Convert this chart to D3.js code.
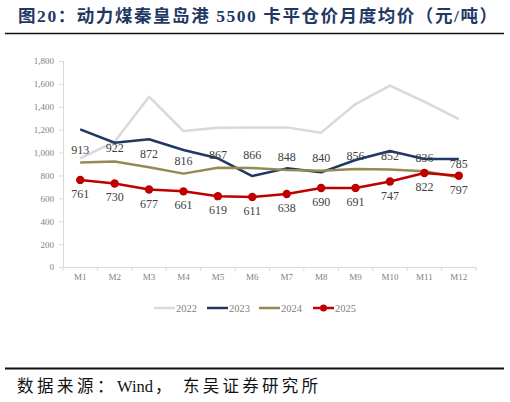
<!DOCTYPE html>
<html><head><meta charset="utf-8">
<script src="https://cdn.jsdelivr.net/npm/d3@7/dist/d3.min.js"></script>
<style>body{margin:0;background:#fff}svg{display:block}</style>
</head><body>
<svg id="c" width="510" height="402"></svg>
<script>
const months = ["M1","M2","M3","M4","M5","M6","M7","M8","M9","M10","M11","M12"];
const s2022 = [950,1095,1488,1188,1217,1220,1220,1174,1424,1584,1444,1293];
const s2023 = [1203,1086,1116,1022,950,795,862,827,935,1013,944,944];
const s2024 = [913,922,872,816,867,866,848,840,856,852,836,785];
const s2025 = [761,730,677,661,619,611,638,690,691,747,822,797];
const yTicks = [0,200,400,600,800,1000,1200,1400,1600,1800];
const seriesNames = ["2022","2023","2024","2025"];
const colors = ["#d9d9d9","#1f3864","#948a54","#c00000"];

const svg = d3.select("#c");
const serif = "'Liberation Serif','Times New Roman',serif";
const cjk = "'Liberation Serif','Noto Sans CJK SC',serif";

// title
svg.append("text").attr("x",18).attr("y",22).attr("font-family",cjk).attr("font-weight","bold")
  .attr("font-size",17.5).attr("fill","#1f3864")
  .attr("textLength",479).attr("lengthAdjust","spacing")
  .text("图20：动力煤秦皇岛港 5500 卡平仓价月度均价（元/吨）");
svg.append("line").attr("x1",5).attr("x2",504).attr("y1",33.5).attr("y2",33.5).attr("stroke","#111").attr("stroke-width",1.5);

const x = d3.scaleBand().domain(months).range([63,476]);
const y = d3.scaleLinear().domain([0,1800]).range([267,61]);

// y axis
const ya = svg.append("g").attr("transform","translate(63,0)")
  .call(d3.axisLeft(y).tickValues(yTicks).tickSize(4).tickPadding(5).tickFormat(d3.format(",")));
ya.select(".domain").attr("stroke","#d9d9d9");
ya.selectAll(".tick line").attr("stroke","#d9d9d9");
ya.selectAll("text").attr("font-family",serif).attr("font-size",9).attr("fill","#7f7f7f");

// x axis
const xa = svg.append("g").attr("transform","translate(0,267)")
  .call(d3.axisBottom(x).tickSize(0).tickPadding(7));
xa.select(".domain").attr("stroke","#d9d9d9");
xa.selectAll("text").attr("font-family",serif).attr("font-size",9).attr("fill","#7f7f7f");
const bounds = months.map(m=>x(m)).concat([x.range()[1]]);
xa.selectAll(".bt").data(bounds).enter().append("line")
  .attr("x1",d=>d).attr("x2",d=>d).attr("y1",0).attr("y2",4).attr("stroke","#d9d9d9");

const cx = m => x(m)+x.bandwidth()/2;
const line = d3.line().x((d,i)=>cx(months[i])).y(d=>y(d));
const all = [s2022,s2023,s2024,s2025];
all.forEach((s,k)=>{
  svg.append("path").datum(s).attr("d",line).attr("fill","none")
    .attr("stroke",colors[k]).attr("stroke-width",2.5).attr("stroke-linejoin","round");
});
svg.selectAll(".dot").data(s2025).enter().append("circle")
  .attr("cx",(d,i)=>cx(months[i])).attr("cy",d=>y(d)).attr("r",4.2).attr("fill",colors[3]);

// labels
svg.selectAll(".l24").data(s2024).enter().append("text")
  .attr("x",(d,i)=>cx(months[i])).attr("y",d=>y(d)-9).attr("text-anchor","middle")
  .attr("font-family",serif).attr("font-size",12).attr("fill","#404040").text(d=>d);
svg.selectAll(".l25").data(s2025).enter().append("text")
  .attr("x",(d,i)=>cx(months[i])).attr("y",d=>y(d)+18).attr("text-anchor","middle")
  .attr("font-family",serif).attr("font-size",12).attr("fill","#404040").text(d=>d);

// legend
const legX = [154,207,259,313];
seriesNames.forEach((n,k)=>{
  const g = svg.append("g").attr("transform",`translate(${legX[k]},308)`);
  g.append("line").attr("x1",0).attr("x2",21).attr("stroke",colors[k]).attr("stroke-width",2.5);
  if(k===3) g.append("circle").attr("cx",10.5).attr("cy",0).attr("r",3.5).attr("fill",colors[k]);
  g.append("text").attr("x",22).attr("y",4).attr("font-family",serif).attr("font-size",10.5)
    .attr("fill","#7f7f7f").text(n);
});

// footer
svg.append("line").attr("x1",5).attr("x2",504).attr("y1",368.5).attr("y2",368.5).attr("stroke","#111").attr("stroke-width",2);
const foot = svg.append("g").attr("font-family",cjk).attr("font-size",16.5).attr("fill","#111");
foot.append("text").attr("x",17).attr("y",392).attr("letter-spacing",3.5).text("数据来源：");
foot.append("text").attr("x",117).attr("y",392).text("Wind");
foot.append("text").attr("x",155).attr("y",392).text("，");
foot.append("text").attr("x",183).attr("y",392).attr("textLength",135).attr("lengthAdjust","spacing").text("东吴证券研究所");
</script>
</body></html>
